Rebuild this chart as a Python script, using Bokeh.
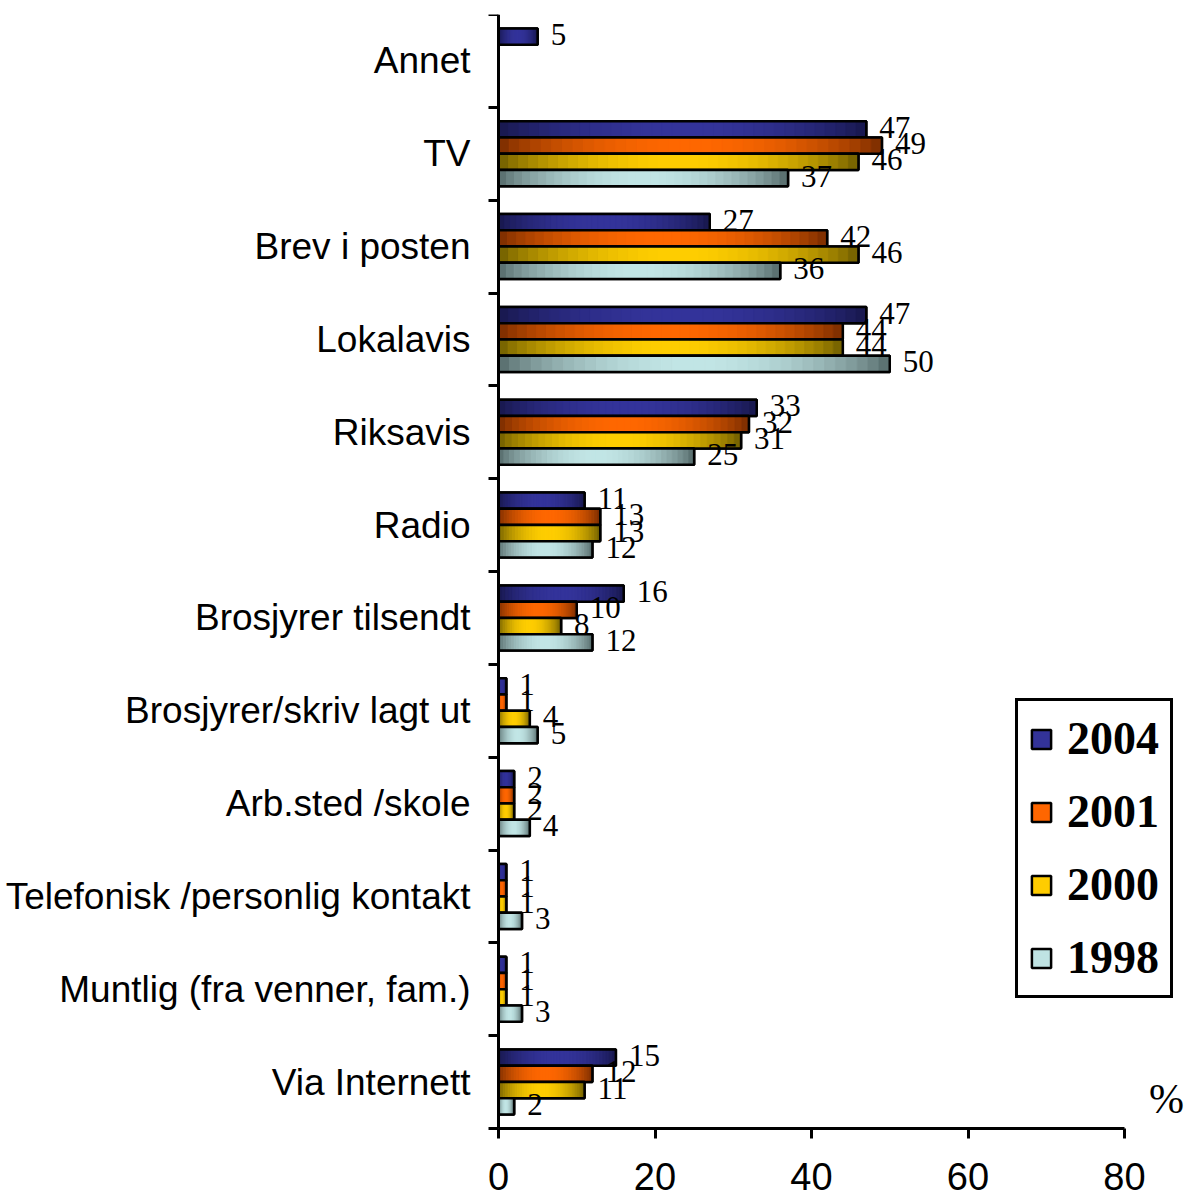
import numpy as np
from bokeh.plotting import figure
from bokeh.models import (ColumnDataSource, Range1d, FixedTicker, Legend, LegendItem, Label,
                          LinearAxis)
from bokeh.embed import file_html
from bokeh.resources import INLINE
from bokeh.core.properties import value

categories = ["Annet", "TV", "Brev i posten", "Lokalavis", "Riksavis", "Radio",
              "Brosjyrer tilsendt", "Brosjyrer/skriv lagt ut", "Arb.sted /skole",
              "Telefonisk /personlig kontakt", "Muntlig (fra venner, fam.)", "Via Internett"]
years = ["2004", "2001", "2000", "1998"]
v2004 = [5, 47, 27, 47, 33, 11, 16, 1, 2, 1, 1, 15]
v2001 = [None, 49, 42, 44, 32, 13, 10, 1, 2, 1, 1, 12]
v2000 = [None, 46, 46, 44, 31, 13, 8, 4, 2, 1, 1, 11]
v1998 = [None, 37, 36, 50, 25, 12, 12, 5, 4, 3, 3, 2]
x_ticks = [0, 20, 40, 60, 80]
footnote = "1998: N = 1200"

series = [v2004, v2001, v2000, v1998]
dark = [(22, 22, 72), (115, 42, 0), (105, 88, 0), (80, 100, 100)]
light = [(52, 52, 155), (255, 104, 0), (255, 206, 0), (194, 230, 230)]
mid = ["#333399", "#ff6600", "#ffcc00", "#bfe3e3"]

n = len(categories)
bar_h = 0.175
offsets = [1.5 * bar_h, 0.5 * bar_h, -0.5 * bar_h, -1.5 * bar_h]

p = figure(width=1187, height=1198, x_range=Range1d(-3.067, 88.05), y_range=Range1d(-0.754, n),
           output_backend="svg", toolbar_location=None,
           min_border_left=474, min_border_right=0, min_border_top=14, min_border_bottom=0)
p.outline_line_color = None
p.xgrid.grid_line_color = None
p.ygrid.grid_line_color = None
p.background_fill_color = "white"
p.border_fill_color = "white"

centers = [n - i - 0.5 for i in range(n)]

legend_items = []
NS = 36
for s, vals in enumerate(series):
    ys, lefts, rights = [], [], []
    for i, v in enumerate(vals):
        if v is None:
            continue
        ys.append(centers[i] + offsets[s])
        lefts.append(0)
        rights.append(v)
    base = p.hbar(y=ys, left=lefts, right=rights, height=bar_h,
                  fill_color=mid[s], line_color="black", line_width=2.5)
    legend_items.append(LegendItem(label=years[s], renderers=[base]))
    # gradient slices along the bar length
    sy, sl, sr, sc = [], [], [], []
    for y0, r in zip(ys, rights):
        for k in range(NS):
            t = (k + 0.5) / NS
            f = np.sin(np.pi * t) ** 0.7
            c = tuple(int(dark[s][j] + (light[s][j] - dark[s][j]) * f) for j in range(3))
            sy.append(y0)
            sl.append(r * k / NS)
            sr.append(r * (k + 1) / NS)
            sc.append("#%02x%02x%02x" % c)
    src = ColumnDataSource(dict(y=sy, left=sl, right=sr, color=sc))
    p.hbar(y="y", left="left", right="right", height=bar_h, source=src,
           fill_color="color", line_color="color", line_width=0.8)
    p.hbar(y=ys, left=lefts, right=rights, height=bar_h,
           fill_color=None, line_color="black", line_width=2.5)
    p.text(x=rights, y=ys, text=[str(r) for r in rights],
           text_font=value("Liberation Serif"), text_font_size="31px",
           text_color="black", text_align="left", text_baseline="middle",
           x_offset=13, y_offset=-2)

# x axis drawn at y = 0 inside the frame
xa = p.xaxis[0]
xa.fixed_location = 0
xa.ticker = FixedTicker(ticks=x_ticks)
xa.bounds = (0, 80)
xa.axis_line_width = 3
xa.axis_line_color = "black"
xa.major_tick_line_width = 3
xa.major_tick_out = 10
xa.major_tick_in = 0
xa.minor_tick_line_color = None
xa.major_label_text_font = "Liberation Sans"
xa.major_label_text_font_size = "38px"
xa.major_label_text_color = "black"
xa.major_label_standoff = 24

# y axis: category labels in the left panel
ya = p.yaxis[0]
ya.ticker = FixedTicker(ticks=centers)
ya.major_label_overrides = {c: categories[i] for i, c in enumerate(centers)}
ya.axis_line_color = None
ya.major_tick_line_color = None
ya.minor_tick_line_color = None
ya.major_tick_out = 0
ya.major_tick_in = 0
ya.major_label_text_font = "Liberation Sans"
ya.major_label_text_font_size = "37px"
ya.major_label_text_color = "black"
ya.major_label_standoff = 4

# y axis line with band-boundary ticks at x = 0
ya2 = LinearAxis(fixed_location=0, bounds=(0, n),
                 ticker=FixedTicker(ticks=[], minor_ticks=list(range(n + 1))),
                 axis_line_width=3, axis_line_color="black",
                 major_tick_line_color=None,
                 minor_tick_line_width=3, minor_tick_line_color="black",
                 minor_tick_out=10, minor_tick_in=0)
p.add_layout(ya2, "left")

legend = Legend(items=legend_items, location=(541, 200),
                label_text_font="Liberation Serif", label_text_font_size="46px",
                label_text_font_style="bold", label_text_color="black",
                glyph_width=24, glyph_height=24, label_standoff=14,
                spacing=20, padding=11, margin=0,
                border_line_color="black", border_line_width=3, border_line_alpha=1,
                background_fill_color="white", background_fill_alpha=1)
p.add_layout(legend)

p.add_layout(Label(x=692, y=100, x_units="screen", y_units="screen", text="%",
                   text_font="Liberation Serif", text_font_size="42px",
                   text_align="center", text_baseline="middle", text_color="black"))
p.add_layout(Label(x=-334, y=17, x_units="screen", y_units="screen", text=footnote,
                   text_font="Liberation Sans", text_font_size="36px",
                   text_align="left", text_baseline="top", text_color="black"))

open("out.html", "w").write(file_html(p, INLINE))
